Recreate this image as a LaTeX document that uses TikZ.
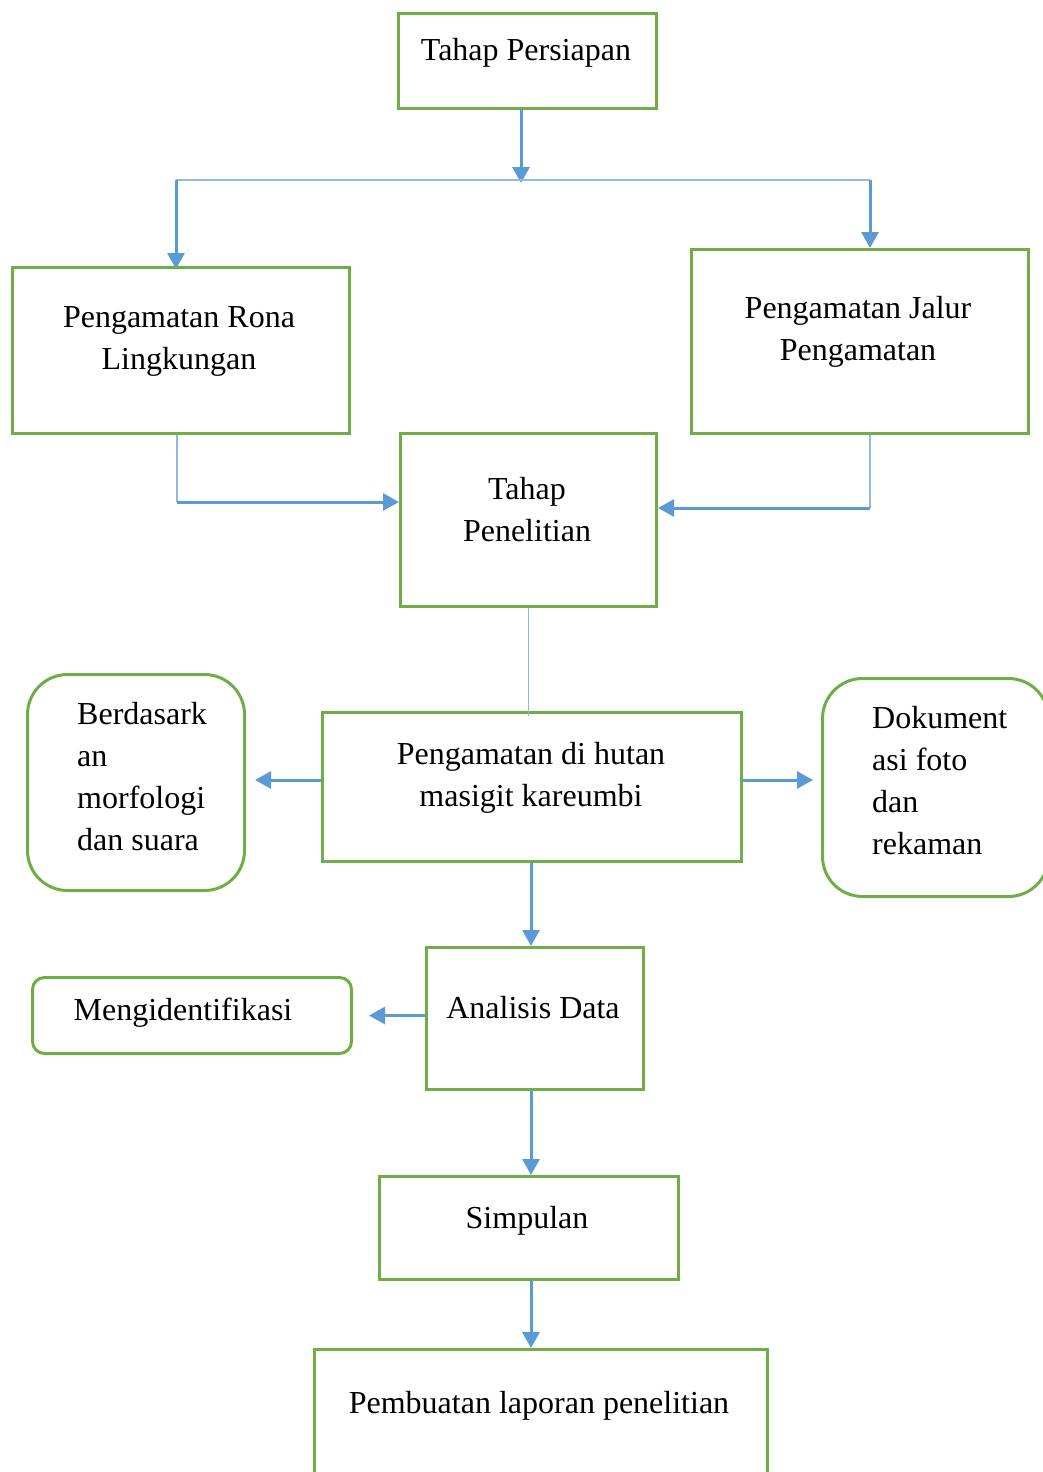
\documentclass[tikz,border=0pt]{standalone}
\usepackage{fontspec}
\setmainfont{Liberation Serif}
\usetikzlibrary{arrows.meta,positioning}
\definecolor{Frame}{HTML}{70AD47}
\definecolor{Flow}{HTML}{5B9BD5}
\definecolor{Link}{HTML}{8DB9E4}

\begin{document}
\begin{tikzpicture}[x=1pt,y=-1pt,
  stage/.style={draw=Frame,line width=3pt,anchor=north west,inner sep=0pt},
  note/.style={stage,rounded corners=#1},
  txt/.style={inner sep=0pt,align=center,font=\fontsize{32}{42}\selectfont},
  flow/.style={draw=Flow,line width=3pt,-{Triangle[length=16pt,width=17pt]}},
  link/.style={draw=Link,line width=1.6pt}]
  \useasboundingbox (0,0) rectangle (1043,1472);
  \clip (0,0) rectangle (1043,1472);

  % Stages.
  \node[stage,minimum width=258pt,minimum height=95pt] (persiapan) at (397,12) {};
  \node[stage,minimum width=337pt,minimum height=166pt] (rona) at (11,266) {};
  \node[stage,minimum width=337pt,minimum height=184pt] (jalur) at (690,248) {};
  \node[stage,minimum width=256pt,minimum height=173pt] (penelitian) at (399,432) {};
  \node[stage,minimum width=419pt,minimum height=149pt] (hutan) at (321,711) {};
  \node[note=40pt,minimum width=217pt,minimum height=216pt] (morfologi) at (26,673) {};
  \node[note=40pt,minimum width=226pt,minimum height=218pt] (dokumentasi) at (821,677) {};
  \node[stage,minimum width=217pt,minimum height=142pt] (analisis) at (425,946) {};
  \node[note=12pt,minimum width=319pt,minimum height=76pt] (identifikasi) at (31,976) {};
  \node[stage,minimum width=299pt,minimum height=103pt] (simpulan) at (378,1175) {};
  \node[stage,minimum width=453pt,minimum height=150pt] (laporan) at (313,1348) {};

  % Texts.
  \node[txt] (persiapan-t) at (526,53) {Tahap Persiapan};
  \node[txt] (rona-t) at (179,341) {Pengamatan Rona\\Lingkungan};
  \node[txt] (jalur-t) at (858,332) {Pengamatan Jalur\\Pengamatan};
  \node[txt] (penelitian-t) at (527,510) {Tahap\\Penelitian};
  \node[txt] (hutan-t) at (531,778) {Pengamatan di hutan\\masigit kareumbi};
  \node[txt,align=left,anchor=west] (morfologi-t) at (77,777) {Berdasark\\an\\morfologi\\dan suara};
  \node[txt,align=left,anchor=west] (dokumentasi-t) at (872,781) {Dokument\\asi foto\\dan\\rekaman};
  \node[txt] (analisis-t) at (533,1008) {Analisis Data};
  \node[txt] (identifikasi-t) at (183,1013) {Mengidentifikasi};
  \node[txt] (simpulan-t) at (527,1221) {Simpulan};
  \node[txt] (laporan-t) at (539,1406) {Pembuatan laporan penelitian};

  % Connectors.
  \coordinate (split) at (521,180);
  \coordinate (splitL) at (176,180);
  \coordinate (splitR) at (870,180);
  \coordinate (joinL) at (177,502);
  \coordinate (joinR) at (870,508);
  \coordinate (side) at (0,780);
  \coordinate (spine) at (531,0);

  \draw[flow] (persiapan.south -| split) -- ([yshift=-3pt]split);
  \draw[link] (splitL) -- (splitR);
  \draw[flow] (splitL) -- ([yshift=-3pt]rona.north -| splitL);
  \draw[flow] (splitR) -- (jalur.north -| splitR);
  \draw[link] (rona.south -| joinL) -- (joinL);
  \draw[flow] (joinL) -- (penelitian.west |- joinL);
  \draw[link] (jalur.south -| joinR) -- (joinR);
  \draw[flow] (joinR) -- (penelitian.east |- joinR);
  \draw[link] (penelitian.south) -- ([yshift=-5pt]penelitian.south |- hutan.north);
  \draw[flow,shorten >=9pt] (hutan.west |- side) -- (morfologi.east |- side);
  \draw[flow,shorten >=8pt] (hutan.east |- side) -- (dokumentasi.west |- side);
  \draw[flow] (hutan.south -| spine) -- (analisis.north -| spine);
  \draw[flow,shorten >=16pt] (analisis.west |- identifikasi.east) -- (identifikasi.east);
  \draw[flow] (analisis.south -| spine) -- (simpulan.north -| spine);
  \draw[flow] (simpulan.south -| spine) -- (laporan.north -| spine);
\end{tikzpicture}
\end{document}
